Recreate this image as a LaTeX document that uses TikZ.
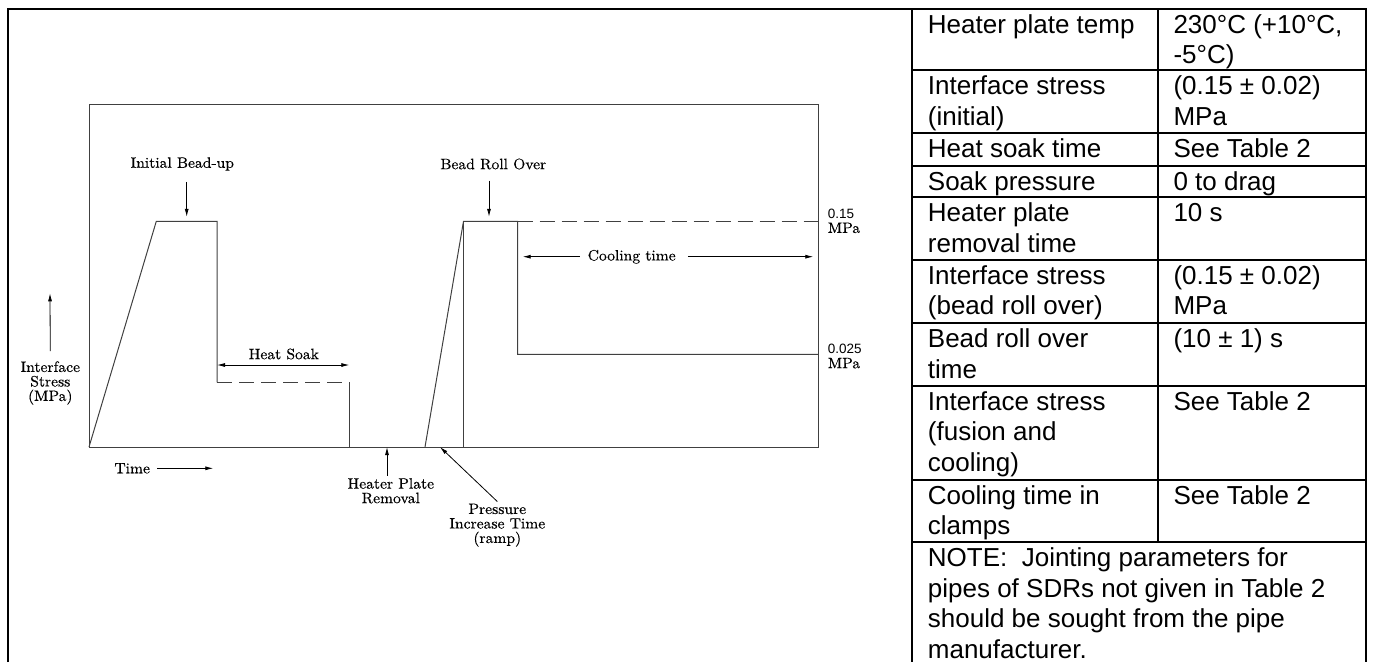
\documentclass[tikz,border=0pt]{standalone}
\usepackage{fontspec}
\newfontfamily\tablefont{Liberation Sans}
\newfontfamily\plotfont{lmroman10-regular.otf}[FakeStretch=1.04, FakeBold=0.4]
\usetikzlibrary{arrows.meta}
\newcommand{\celltext}[1]{\begin{tabular}[t]{@{}l@{}}#1\end{tabular}}
\newcommand{\levelnum}[1]{{\tablefont\fontsize{13.5}{14.5}\selectfont #1}}
\tikzset{
	frameline/.style={black, line width=2pt},
	curve/.style={black!75, line width=1pt},
	pointer/.style={black, line width=0.8pt, -{Latex[length=8pt,width=4pt]}},
	twoway/.style={black, line width=0.8pt, {Latex[length=8pt,width=4pt]}-{Latex[length=8pt,width=4pt]}},
	graphlabel/.style={font=\plotfont\fontsize{15}{14.5}\selectfont, align=center, inner sep=2pt},
	cell/.style={font=\tablefont\fontsize{26}{30.5}\selectfont, anchor=base west, inner sep=0pt},
}
\begin{document}
\begin{tikzpicture}[x=1pt, y=-1pt]
		\useasboundingbox (0,0) rectangle (1373,662);
		\pgfmathsetmacro{\base}{447}
		\pgfmathsetmacro{\peak}{221.3}
		\pgfmathsetmacro{\ka}{927.7}
		\pgfmathsetmacro{\kb}{1173.3}
		\draw[frameline] (8,662) -- (8,9) -- (1366,9) -- (1366,662);
		\draw[frameline] (912,9) -- (912,662);
		\draw[frameline] (1158,9) -- (1158,542.3);
		\foreach \ry in {70.3,133.3,165.7,197.3,260,323.3,385.7,480,542.3}
			\draw[frameline] (912,\ry) -- (1366,\ry);
		\draw[curve] (89,104) rectangle (818,\base);
		\draw[curve] (89,\base) -- (156.3,\peak) -- (217,\peak) -- (217,382.3);
		\draw[curve, dash pattern=on 15pt off 7pt] (217,382.3) -- (349.3,382.3);
		\draw[curve] (349.3,382.3) -- (349.3,\base);
		\draw[curve] (425,\base) -- (463.5,\peak) -- (517.7,\peak) -- (517.7,354.3) -- (818,354.3);
		\draw[curve] (463.5,\peak) -- (463.5,\base);
		\draw[curve, dash pattern=on 15pt off 7pt] (517.7,\peak) -- (818,\peak);
		\node[graphlabel] (beadup) at (182.3,164) {Initial Bead-up};
		\coordinate (upplate) at (186.7,\peak);
		\draw[pointer, shorten <=9pt, shorten >=4.5pt] (beadup.south -| upplate) -- (upplate);
		\node[graphlabel] (rollover) at (493.3,164) {Bead Roll Over};
		\coordinate (rollplate) at (489,\peak);
		\draw[pointer, shorten <=9pt, shorten >=4.5pt] (rollover.south -| rollplate) -- (rollplate);
		\node[graphlabel] (cooling) at (631.7,256.7) {Cooling time};
		\coordinate (coolstart) at (517.7,256.7);
		\coordinate (coolend) at (818,256.7);
		\draw[pointer, shorten <=6pt, shorten >=5pt] (cooling.west) -- (coolstart);
		\draw[pointer, shorten <=10pt, shorten >=4.7pt] (cooling.east) -- (coolend);
		\node[graphlabel] (soak) at (283.8,354) {Heat Soak};
		\coordinate (soakstart) at (217,365);
		\coordinate (soakend) at (349.3,365);
		\draw[twoway] (soakstart) -- (soakend);
		\node[graphlabel] (stress) at (50.3,383) {Interface\\Stress\\(MPa)};
		\coordinate (stressup) at (50,293.3);
		\draw[pointer, shorten <=8pt] (stress.north) -- (stressup);
		\node[graphlabel] (time) at (132.2,468.3) {Time};
		\coordinate (timeend) at (213.3,468.3);
		\draw[pointer, shorten <=5pt] (time.east) -- (timeend);
		\node[graphlabel] (removal) at (390.8,490.8) {Heater Plate\\Removal};
		\coordinate (removalmark) at (387,\base);
		\draw[pointer] (removal.north -| removalmark) -- (removalmark);
		\node[graphlabel] (ramp) at (497.3,525.2) {Pressure\\Increase Time\\(ramp)};
		\coordinate (rampmark) at (440,\base);
		\draw[pointer] (ramp.north) -- (rampmark);
		\node[graphlabel, align=left, anchor=west] (highlevel) at (825.7,221) {\levelnum{0.15}\\MPa};
		\node[graphlabel, align=left, anchor=west] (lowlevel) at (825.7,356.3) {\levelnum{0.025}\\MPa};
		\node[cell] (temp) at (\ka,33.4) {\celltext{Heater plate temp}};
		\node[cell] (tempval) at (\kb,33.4) {\celltext{230°C (+10°C,\\-5°C)}};
		\node[cell] (initstress) at (\ka,94.7) {\celltext{Interface stress\\(initial)}};
		\node[cell] (initstressval) at (\kb,94.7) {\celltext{(0.15 ± 0.02)\\MPa}};
		\node[cell] (soaktime) at (\ka,157.7) {\celltext{Heat soak time}};
		\node[cell] (soaktimeval) at (\kb,157.7) {\celltext{See Table 2}};
		\node[cell] (soakpress) at (\ka,190.1) {\celltext{Soak pressure}};
		\node[cell] (soakpressval) at (\kb,190.1) {\celltext{0 to drag}};
		\node[cell] (plateout) at (\ka,221.7) {\celltext{Heater plate\\removal time}};
		\node[cell] (plateoutval) at (\kb,221.7) {\celltext{10 s}};
		\node[cell] (rollstress) at (\ka,284.4) {\celltext{Interface stress\\(bead roll over)}};
		\node[cell] (rollstressval) at (\kb,284.4) {\celltext{(0.15 ± 0.02)\\MPa}};
		\node[cell] (rolltime) at (\ka,347.7) {\celltext{Bead roll over\\time}};
		\node[cell] (rolltimeval) at (\kb,347.7) {\celltext{(10 ± 1) s}};
		\node[cell] (fusestress) at (\ka,410.1) {\celltext{Interface stress\\(fusion and\\cooling)}};
		\node[cell] (fusestressval) at (\kb,410.1) {\celltext{See Table 2}};
		\node[cell] (cooltime) at (\ka,504.4) {\celltext{Cooling time in\\clamps}};
		\node[cell] (cooltimeval) at (\kb,504.4) {\celltext{See Table 2}};
		\node[cell] (note) at (\ka,566.7) {\celltext{NOTE:\ \ Jointing parameters for\\pipes of SDRs not given in Table 2\\should be sought from the pipe\\manufacturer.}};
	\end{tikzpicture}
\end{document}
